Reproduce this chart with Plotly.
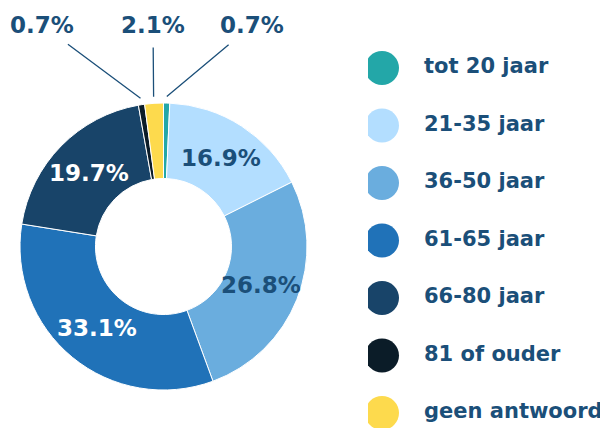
import numpy as np
import plotly.graph_objects as go

# data
labels = ['tot 20 jaar', '21-35 jaar', '36-50 jaar', '61-65 jaar',
          '66-80 jaar', '81 of ouder', 'geen antwoord']
values = [0.7, 16.9, 26.8, 33.1, 19.7, 0.7, 2.1]
colors = ['#23A7A8', '#B3DEFF', '#6AADDE', '#2072B8', '#184469', '#0B1C28', '#FDDA4D']
text_colors = ['#1B4F79', '#1B4F79', '#1B4F79', 'white', 'white', 'white', '#1B4F79']
small = [0, 5, 6]  # slices labelled outside with a leader line

# the page body adds an 8px margin, so the figure is a bit smaller and
# every pixel position below is given in window pixels minus OFF
OFF = 8
W, H = 608 - OFF, 428 - OFF
TXT = '#1B4F79'
FONT = 'DejaVu Sans'

# pie geometry (window pixels)
cx, cy, R = 163.5 - OFF, 246.5 - OFF, 143.5


def to_paper(px, py):
    return px / W, 1 - py / H


fig = go.Figure()

fig.add_trace(go.Pie(
    labels=labels, values=values, sort=False, direction='clockwise', rotation=0,
    hole=0.474,
    marker=dict(colors=colors, line=dict(color='white', width=1)),
    textinfo='none',
    domain=dict(x=[(cx - R) / W, (cx + R) / W], y=[1 - (cy + R) / H, 1 - (cy - R) / H]),
    showlegend=False, hoverinfo='label+percent',
))

total = sum(values)
cum = np.cumsum([0] + values)
label_pos = {0: (252, 25), 5: (42, 25), 6: (153, 25)}
for i, v in enumerate(values):
    ang = np.radians((cum[i] + v / 2) / total * 360)
    if i in small:
        # outside label with leader line
        px = cx + 150 * np.sin(ang)
        py = cy - 150 * np.cos(ang)
        tx, ty = label_pos[i]
        x, y = to_paper(px, py)
        fig.add_annotation(
            x=x, y=y, xref='paper', yref='paper',
            ax=tx - OFF - px, ay=ty - OFF - py,
            text=f'<b>{v:.1f}%</b>',
            font=dict(family=FONT, size=23, color=TXT),
            showarrow=True, arrowhead=0, arrowwidth=1.3, arrowcolor=TXT,
            startstandoff=8,
        )
    else:
        px = cx + 105 * np.sin(ang)
        py = cy - 105 * np.cos(ang)
        x, y = to_paper(px, py)
        fig.add_annotation(
            x=x, y=y, xref='paper', yref='paper', showarrow=False,
            xanchor='center', yanchor='middle',
            text=f'<b>{v:.1f}%</b>',
            font=dict(family=FONT, size=23, color=text_colors[i]),
        )

# custom legend with large circles
idx = list(range(len(labels)))
fig.add_trace(go.Scatter(
    x=[0] * len(labels), y=idx, mode='markers',
    marker=dict(size=34, color=colors, line=dict(width=0)),
    xaxis='x2', yaxis='y2', showlegend=False, hoverinfo='skip',
))
fig.add_trace(go.Scatter(
    x=[1] * len(labels), y=idx, mode='text',
    text=[f'<b>{l}</b>' for l in labels], textposition='middle right',
    textfont=dict(family=FONT, size=21, color=TXT),
    xaxis='x2', yaxis='y2', showlegend=False, hoverinfo='skip',
))

# legend axes: circle column at x=382, text at x=424, rows at y=68 + 57.5*i
x0_dom = 0.6
dom_px = x0_dom * W
sx = 424 - 382
xr0 = -(382 - OFF - dom_px) / sx
xr1 = xr0 + (W - dom_px) / sx
sy = 57.5
yr_top = -(68 - OFF) / sy
yr_bot = yr_top + H / sy

fig.update_layout(
    width=W, height=H,
    margin=dict(l=0, r=0, t=0, b=0),
    paper_bgcolor='white', plot_bgcolor='rgba(0,0,0,0)',
    xaxis2=dict(domain=[x0_dom, 1.0], range=[xr0, xr1], visible=False, fixedrange=True),
    yaxis2=dict(domain=[0, 1], range=[yr_bot, yr_top], visible=False, fixedrange=True,
                anchor='x2'),
)

fig.write_html('out.html')
